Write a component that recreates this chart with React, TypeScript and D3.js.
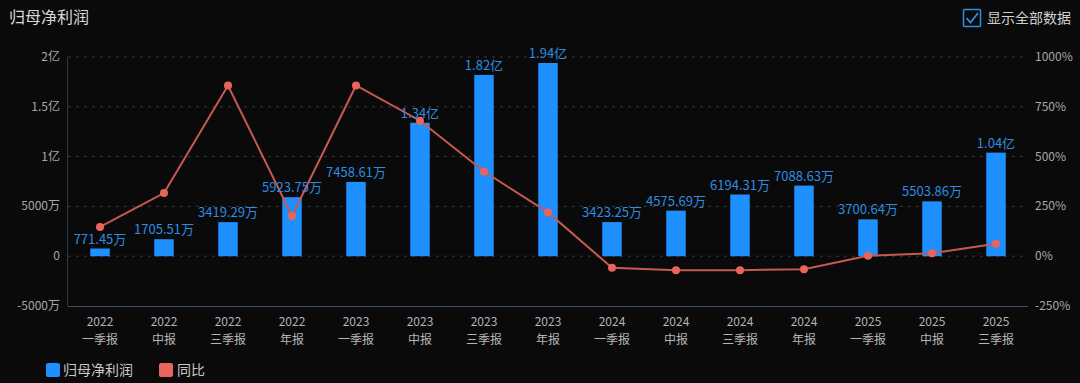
import React from "react";
import * as d3 from "d3";

const years = ["2022","2022","2022","2022","2023","2023","2023","2023","2024","2024","2024","2024","2025","2025","2025"];
const periods = ["一季报","中报","三季报","年报","一季报","中报","三季报","年报","一季报","中报","三季报","年报","一季报","中报","三季报"];
const profitWan = [771.45,1705.51,3419.29,5923.75,7458.61,13400,18200,19400,3423.25,4575.69,6194.31,7088.63,3700.64,5503.86,10400];
const yoyPct = [147,317,857,202,857,680,425,220,-58,-70,-70,-65,2,15,63];
const leftTicks = [-5000,0,5000,10000,15000,20000];
const rightTicks = [-250,0,250,500,750,1000];

const W = 1080, H = 383;
const plotL = 68, plotR = 1028, plotT = 57, plotB = 306;
const font = "'Noto Sans CJK SC', 'Noto Sans', sans-serif";

function fmtWan(v: number) {
  if (v === 0) return "0";
  if (Math.abs(v) >= 10000) return `${d3.format("~g")(v / 10000)}亿`;
  return `${v}万`;
}
function fmtLabel(v: number) {
  if (Math.abs(v) >= 10000) return `${(v / 10000).toFixed(2)}亿`;
  return `${v.toFixed(2)}万`;
}

export default function App() {
  const idx = d3.range(profitWan.length);
  const x = d3.scaleBand<number>().domain(idx).range([plotL, plotR]).paddingInner(0).paddingOuter(0);
  const yL = d3.scaleLinear().domain([-5000, 20000]).range([plotB, plotT]);
  const yR = d3.scaleLinear().domain([-250, 1000]).range([plotB, plotT]);
  const bw = 19.5;
  const cx = (i: number) => (x(i) as number) + x.bandwidth() / 2;
  const line = d3.line<number>().x((_, i) => cx(i)).y((d) => yR(d));

  return (
    <svg width={W} height={H} style={{ position: "absolute", left: 0, top: 0, background: "#0a0a0b", fontFamily: font }}>
      <rect x={0} y={0} width={W} height={H} fill="#0a0a0b" />
      <text x={9} y={23} fill="#d8d8d8" fontSize={16}>归母净利润</text>
      {/* checkbox */}
      <rect x={963.5} y={9.5} width={17} height={17} fill="none" stroke="#2f8fe0" strokeWidth={1.5} rx={1} />
      <path d="M966.5,18 L970.5,22.5 L978,13" fill="none" stroke="#2f8fe0" strokeWidth={1.8} />
      <text x={987} y={23} fill="#d0d0d0" fontSize={14}>显示全部数据</text>

      {/* grid */}
      {leftTicks.filter((t) => t !== -5000).map((t) => (
        <line key={t} x1={plotL} x2={plotR} y1={yL(t)} y2={yL(t)} stroke="#3a3a3a" strokeDasharray="3,5" />
      ))}
      <line x1={plotL - 0.5} x2={plotL - 0.5} y1={plotT} y2={plotB} stroke="#2c3a4c" />
      <line x1={plotL} x2={plotR} y1={plotB + 0.5} y2={plotB + 0.5} stroke="#3c5068" />

      {leftTicks.map((t) => (
        <text key={t} x={60} y={yL(t) + 4} fill="#a8a8a8" fontSize={12} textAnchor="end">{fmtWan(t)}</text>
      ))}
      {rightTicks.map((t) => (
        <text key={t} x={1035} y={yR(t) + 4} fill="#a8a8a8" fontSize={12} textAnchor="start">{`${t}%`}</text>
      ))}
      {idx.map((i) => (
        <g key={i}>
          <text x={cx(i)} y={326} fill="#b4b4b4" fontSize={12} textAnchor="middle">{years[i]}</text>
          <text x={cx(i)} y={343.5} fill="#b4b4b4" fontSize={12} textAnchor="middle">{periods[i]}</text>
        </g>
      ))}

      {/* bars */}
      {profitWan.map((v, i) => (
        <rect key={i} x={cx(i) - bw / 2} y={yL(Math.max(0, v))} width={bw} height={Math.abs(yL(v) - yL(0))} fill="#1e90ff" />
      ))}
      {/* line */}
      <path d={line(yoyPct) || ""} fill="none" stroke="#c65a52" strokeWidth={2} />
      {yoyPct.map((v, i) => (
        <circle key={i} cx={cx(i)} cy={yR(v)} r={4} fill="#e8655d" />
      ))}
      {/* labels */}
      {profitWan.map((v, i) => (
        <text key={i} x={cx(i)} y={yL(v) - 5} fill="#2e8ce0" fontSize={13} textAnchor="middle">{fmtLabel(v)}</text>
      ))}

      {/* legend */}
      <rect x={46} y={363} width={14} height={14} rx={2} fill="#1e90ff" />
      <text x={63} y={375} fill="#c8c8c8" fontSize={14}>归母净利润</text>
      <rect x={159} y={363} width={14} height={14} rx={2} fill="#e8655d" />
      <text x={177} y={375} fill="#c8c8c8" fontSize={14}>同比</text>
    </svg>
  );
}
